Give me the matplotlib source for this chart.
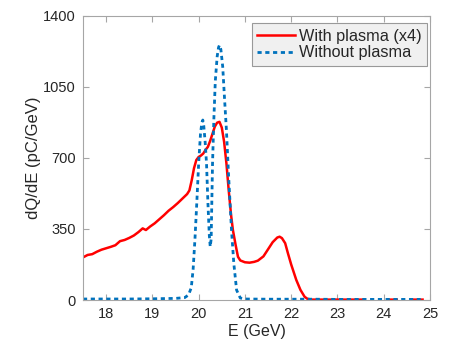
import numpy as np
import matplotlib
matplotlib.use("Agg")
import matplotlib.pyplot as plt

plt.rcParams['font.family'] = ['Liberation Sans', 'DejaVu Sans']

# With plasma (x4)
E_red = [17.5, 17.6, 17.7, 17.8, 17.9, 18.0, 18.1, 18.2, 18.3, 18.4, 18.5, 18.6,
         18.7, 18.79, 18.86, 18.95, 19.05, 19.15, 19.25, 19.35, 19.45, 19.55,
         19.65, 19.75, 19.8, 19.85, 19.9, 19.95, 20.0, 20.05, 20.1, 20.15, 20.2,
         20.25, 20.3, 20.35, 20.4, 20.45, 20.5, 20.55, 20.6, 20.65, 20.7, 20.74,
         20.8, 20.85, 20.9, 21.0, 21.1, 21.2, 21.28, 21.4, 21.5, 21.6, 21.7,
         21.75, 21.8, 21.87, 21.93, 22.0, 22.11, 22.2, 22.29, 22.35, 22.45,
         22.7, 23.0, 23.3, 23.56, 23.6, 24.05, 24.08, 24.28, 24.3, 24.6, 24.63,
         24.84]
Q_red = [210, 222, 226, 238, 248, 255, 262, 270, 290, 296, 306, 318,
         335, 353, 345, 362, 378, 398, 418, 440, 458, 478,
         500, 522, 540, 590, 650, 690, 705, 712, 722, 740, 755,
         785, 820, 855, 874, 878, 850, 780, 674, 540, 420, 345,
         270, 213, 195, 186, 184, 188, 194, 215, 250, 285, 308,
         312, 305, 280, 230, 175, 99, 50, 16, 6, 2,
         2, 2, 2, 2, np.nan, np.nan, 2, 2, np.nan, np.nan, 2,
         2]

# Without plasma
E_blue = [17.5, 18.0, 18.5, 19.0, 19.5, 19.7, 19.78, 19.84, 19.88, 19.92,
          19.96, 20.0, 20.04, 20.07, 20.09, 20.11, 20.14, 20.17, 20.2, 20.23,
          20.25, 20.27, 20.3, 20.33, 20.36, 20.4, 20.43, 20.45, 20.48, 20.52,
          20.56, 20.6, 20.65, 20.71, 20.76, 20.82, 20.9, 21.0, 21.5, 22.0,
          22.5, 23.0, 23.5, 24.0, 24.5, 24.8]
Q_blue = [5, 5, 5, 6, 8, 12, 25, 60, 150, 300,
          480, 673, 820, 875, 887, 860, 780, 673, 480, 320,
          263, 300, 673, 900, 1080, 1200, 1245, 1256, 1235, 1150,
          990, 838, 600, 345, 180, 49, 10, 5, 4, 4,
          4, 3, 3, 3, 3, 3]

xticks = [18, 19, 20, 21, 22, 23, 24, 25]
yticks = [0, 350, 700, 1050, 1400]

fig = plt.figure(figsize=(4.52, 3.39), dpi=100)
ax = fig.add_axes([0.1836, 0.115, 0.9513 - 0.1836, 0.953 - 0.115])

ax.plot(E_red, Q_red, color='#FF0000', lw=1.8, label='With plasma (x4)')
ax.plot(E_blue, Q_blue, color='#0072BD', lw=2.0, dashes=(1.5, 1.3),
        dash_capstyle='butt', label='Without plasma')

ax.set_xlim(17.5, 25)
ax.set_ylim(0, 1400)
ax.set_xticks(xticks)
ax.set_yticks(yticks)
ax.set_xticklabels([str(t) for t in xticks])
ax.set_yticklabels([str(t) for t in yticks])

for s in ax.spines.values():
    s.set_color('#a6a6a6')
    s.set_linewidth(0.8)
ax.tick_params(direction='in', top=True, right=True, length=4, width=0.8,
               color='#a6a6a6', labelcolor='#262626', labelsize=10.5, pad=5)

ax.set_xlabel('E (GeV)', fontsize=11.5, color='#262626', labelpad=2)
ax.set_ylabel('dQ/dE (pC/GeV)', fontsize=12, color='#262626', labelpad=2)

leg = ax.legend(loc='upper right', bbox_to_anchor=(0.9914, 0.9754),
                fontsize=11.7, frameon=True, fancybox=False,
                handlelength=2.3, handletextpad=0.25, borderpad=0.35,
                labelspacing=0.1, borderaxespad=0)
leg.get_frame().set_facecolor('#f0f0f0')
leg.get_frame().set_edgecolor('#999999')
leg.get_frame().set_linewidth(0.8)
leg.get_frame().set_alpha(1)
for t in leg.get_texts():
    t.set_color('#262626')

fig.savefig('out.png', dpi=100)
